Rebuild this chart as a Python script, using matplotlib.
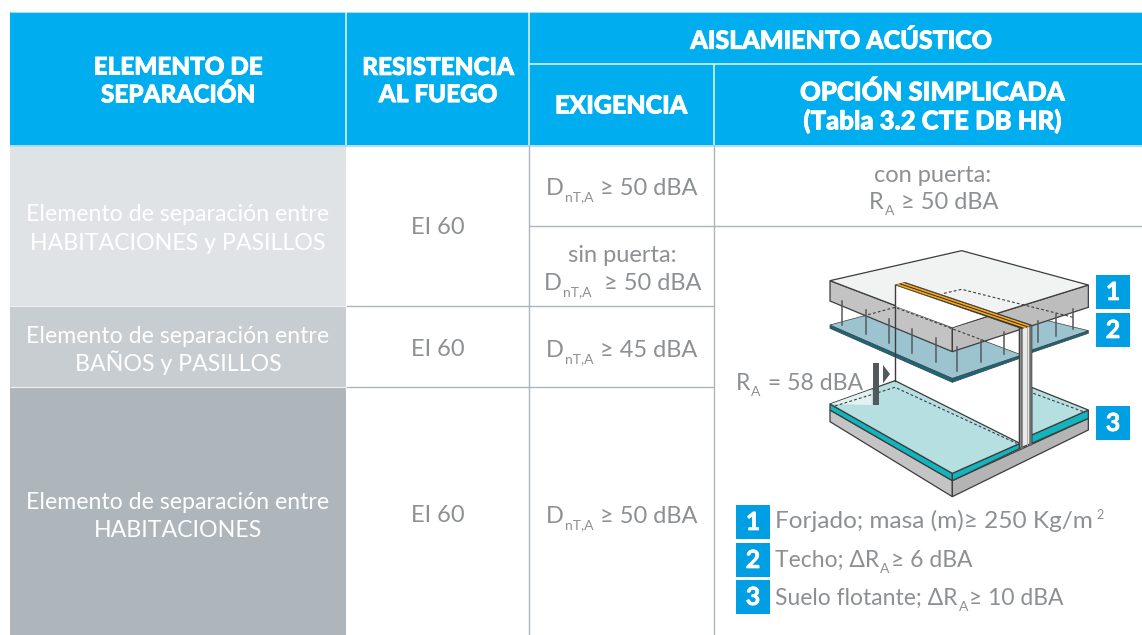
#!/usr/bin/env python3
"""Tabla de aislamiento acustico, dibujada en coordenadas de pixel."""

import matplotlib

matplotlib.use("Agg")
import matplotlib.pyplot as plt
import matplotlib.patheffects as pe
from matplotlib.patches import Polygon, Rectangle

W, H = 1142, 635
BLUE = "#00aeef"
BADGE = "#009fe3"
GREY_TXT = "#8d9092"
LINE = "#aab4ba"
DARK = "#3c3c3c"
FONT = "Lato"

# table content
header_main = ["ELEMENTO DE\nSEPARACIÓN", "RESISTENCIA\nAL FUEGO"]
header_group = "AISLAMIENTO ACÚSTICO"
header_sub = ["EXIGENCIA", "OPCIÓN SIMPLICADA", "(Tabla 3.2 CTE DB HR)"]
element_first = "Elemento de separación entre"
element_second = ["HABITACIONES y PASILLOS", "BAÑOS y PASILLOS", "HABITACIONES"]
element_colors = ["#dfe3e6", "#c8cdd1", "#aeb5bb"]
fire_labels = ["EI 60", "EI 60", "EI 60"]
req_values = ["50", "45", "50"]
legend_numbers = ["1", "2", "3"]

fig = plt.figure(figsize=(W / 100, H / 100), dpi=100)
ax = fig.add_axes([0, 0, 1, 1])
ax.set_xlim(0, W)
ax.set_ylim(H, 0)
ax.axis("off")


def rect(x0, y0, x1, y1, color, z=1):
    ax.add_patch(Rectangle((x0, y0), x1 - x0, y1 - y0, fc=color, ec="none", zorder=z))


def hline(y, x0, x1, color=LINE, lw=1.0):
    ax.plot([x0, x1], [y, y], color=color, lw=lw, zorder=2, solid_capstyle="butt")


def vline(x, y0, y1, color=LINE, lw=1.0):
    ax.plot([x, x], [y0, y1], color=color, lw=lw, zorder=2, solid_capstyle="butt")


def label(x, y, s, size=17, color=GREY_TXT, weight="normal", **kw):
    kw.setdefault("ha", "center")
    kw.setdefault("va", "center")
    kw.setdefault("linespacing", 1.0)
    return ax.text(x, y, s, fontsize=size, color=color, family=FONT, weight=weight, zorder=6, **kw)


def head(x, y, s, size=17.5):
    t = label(x, y, s, size=size, color="white", weight="black", linespacing=1.22)
    t.set_path_effects([pe.withStroke(linewidth=0.6, foreground="white")])


def chain(x, y, parts, center=True, size=17):
    """Texto con subindices: parts = [(texto, es_subindice), ...]; y es la linea base."""
    r = fig.canvas.get_renderer()
    items = []
    for s, sub in parts:
        t = ax.text(0, y + (6 if sub else 0), s, fontsize=10 if sub else size, color=GREY_TXT,
                    family=FONT, weight="normal", ha="left", va="baseline", zorder=6)
        items.append((t, t.get_window_extent(r).width))
    total = sum(w for _, w in items)
    cur = x - total / 2 if center else x
    for t, w in items:
        t.set_x(cur)
        cur += w + 1


def z(pts):
    return [(720 + a / 3, 230 + b / 3) for a, b in pts]


def poly(pts, fc, ec=DARK, lw=0.9, zo=3, alpha=None):
    ax.add_patch(Polygon(z(pts), closed=True, fc=fc, ec=ec, lw=lw, zorder=zo, alpha=alpha, joinstyle="miter"))


def seg(pts, color=DARK, lw=0.9, ls="-", zo=4):
    p = z(pts)
    ax.plot([a for a, _ in p], [b for _, b in p], color=color, lw=lw, ls=ls, zorder=zo)


def badge(x, y, s, size=34):
    rect(x, y, x + size, y + size, BADGE, z=5)
    t = label(x + size / 2, y + size / 2 + 0.5, s, size=18, color="white", weight="bold")
    t.set_path_effects([pe.withStroke(linewidth=0.5, foreground="white")])


# header
rect(10, 12, W, 145, BLUE)
hline(145.5, 10, W, "#9fdcf5", 1.2)
hline(12, 10, W, "#9fdcf5", 0.8)
hline(64, 529, W, "#d5f0fb", 1.2)
vline(346, 12, 145, "#d5f0fb", 1.2)
vline(529, 12, 145, "#d5f0fb", 1.2)
vline(714, 64, 145, "#d5f0fb", 1.2)
head(178, 81, header_main[0])
head(438, 81, header_main[1])
head(841, 41, header_group, size=18)
head(621, 106, header_sub[0], size=18)
head(933, 92, header_sub[1], size=18.5)
head(933, 121, header_sub[2], size=18.5)

# body
row_edges = [145, 306, 387, 635]
first_base = [221, 343, 509]
second_base = [250, 371, 537]
fire_y = [228, 350, 516]
for i, c in enumerate(element_colors):
    rect(10, row_edges[i], 346, row_edges[i + 1], c)
    label(178, first_base[i], element_first, size=16.7, color="white", va="baseline")
    label(178, second_base[i], element_second[i], size=16.7, color="white", va="baseline")
    label(438, fire_y[i], fire_labels[i])

vline(529, 145, 635)
vline(714, 145, 635)
hline(225.5, 529, W)
hline(306, 346, 714)
hline(387, 346, 714)
hline(306, 10, 346, "#eef0f2", 0.8)
hline(387, 10, 346, "#eef0f2", 0.8)

geq = "≥"
chain(621, 195, [("D", False), ("nT,A", True), (f" {geq} {req_values[0]} dBA", False)])
label(622, 256, "sin puerta:")
chain(622, 290, [("D", False), ("nT,A", True), (f"  {geq} 50 dBA", False)])
chain(621, 357, [("D", False), ("nT,A", True), (f" {geq} {req_values[1]} dBA", False)])
chain(621, 523, [("D", False), ("nT,A", True), (f" {geq} {req_values[2]} dBA", False)])
label(933, 175, "con puerta:")
chain(933, 209, [("R", False), ("A", True), (f" {geq} 50 dBA", False)])

# illustration: floor slab, split by the partition
poly([(330, 540), (697, 752), (697, 800), (330, 575)], "#c4c4c4")
poly([(697, 752), (1105, 565), (1105, 600), (697, 800)], "#b4b4b4")
poly([(330, 522), (697, 730), (697, 752), (330, 540)], "#12b5bd")
poly([(697, 730), (900, 640), (900, 655), (697, 752)], "#12b5bd")
poly([(935, 615), (1105, 540), (1105, 565), (935, 640)], "#12b5bd")
poly([(330, 522), (525, 452), (900, 640), (697, 730)], "#b5dfe0")
poly([(935, 472), (1105, 540), (935, 615)], "#b5dfe0")
poly([(332, 522), (455, 478), (455, 525)], "#e3f1f1", ec="none", zo=3)
seg([(345, 528), (525, 472), (890, 640)], ls=(0, (2.5, 2)), lw=0.8)
seg([(940, 490), (1090, 545)], ls=(0, (2.5, 2)), lw=0.8)

# ceiling
poly([(330, 285), (697, 445), (697, 457), (330, 295)], "#17697d", lw=0.5)
poly([(697, 445), (905, 375), (905, 383), (697, 457)], "#17697d", lw=0.5)
poly([(935, 360), (1105, 302), (1105, 310), (935, 368)], "#17697d", lw=0.5)
poly([(330, 285), (525, 232), (905, 375), (697, 445)], "#9cc4d0", lw=0.5)
poly([(935, 260), (1105, 302), (935, 360)], "#9cc4d0", lw=0.5)

# top slab and hangers
poly([(330, 152), (697, 292), (697, 365), (330, 213)], "#c3c3c3")
poly([(697, 292), (1105, 165), (1105, 232), (697, 365)], "#bdbdbd")
poly([(330, 152), (725, 62), (1105, 165), (697, 292)], "#f1f2f2")
poly([(525, 165), (800, 258), (697, 292), (525, 228)], "#ffffff", ec="none", zo=3)
seg([(430, 258), (525, 232), (800, 335)], ls=(0, (2.5, 2)), lw=0.8)
seg([(672, 190), (725, 178), (1060, 262)], ls=(0, (2.5, 2)), lw=0.8)
for xa, ya, yb in [(367, 212, 285), (437, 240, 312), (507, 268, 340), (577, 297, 368), (647, 325, 395),
                   (711, 352, 422), (782, 330, 395), (853, 305, 372), (955, 272, 335), (1009, 252, 318),
                   (1060, 238, 298)]:
    seg([(xa, ya), (xa, yb)], color="#55595c", lw=1.1, zo=5)

# partition and acoustic strip
poly([(898, 295), (935, 288), (935, 640), (898, 655)], "#e9ebeb", zo=5)
seg([(902, 295), (902, 652)], color="#6f6f6f", lw=1.8, zo=6)
seg([(931, 290), (931, 642)], color="#6f6f6f", lw=1.8, zo=6)
seg([(920, 292), (920, 645)], color="#b5b5b5", lw=0.8, zo=6)
seg([(525, 165), (525, 452)], lw=1.0, zo=5)
poly([(525, 165), (555, 157), (935, 285), (905, 296)], "#2b2b2b", lw=0.4, zo=6)
seg([(535, 164), (915, 292)], color="#f5a81c", lw=1.2, zo=7)
seg([(548, 160), (925, 287)], color="#f5a81c", lw=1.2, zo=7)

# RA marker
rect(872.5, 363, 878.5, 405, "#55585a", z=6)
poly([(489, 405), (510, 432), (489, 460)], "#55585a", ec="none", zo=6)
chain(736, 390, [("R", False), ("A", True), (" = 58 dBA", False)], center=False, size=16.6)

# numbered badges
for yy, n in zip([275, 313, 406], legend_numbers):
    badge(1096, yy, n)
for yy, n in zip([505, 543, 580], legend_numbers):
    badge(736, yy, n)

chain(775, 528, [("Forjado; masa (m)≥ 250 Kg/m", False)], center=False, size=17.6)
ax.text(1096, 519, "2", fontsize=9, color=GREY_TXT, family=FONT, weight="normal", zorder=6)
chain(775, 567, [("Techo; ΔR", False), ("A", True), ("≥ 6 dBA", False)], center=False, size=16.5)
chain(775, 605, [("Suelo flotante; ΔR", False), ("A", True), ("≥ 10 dBA", False)], center=False, size=16.5)

fig.savefig("out.png", dpi=100)
